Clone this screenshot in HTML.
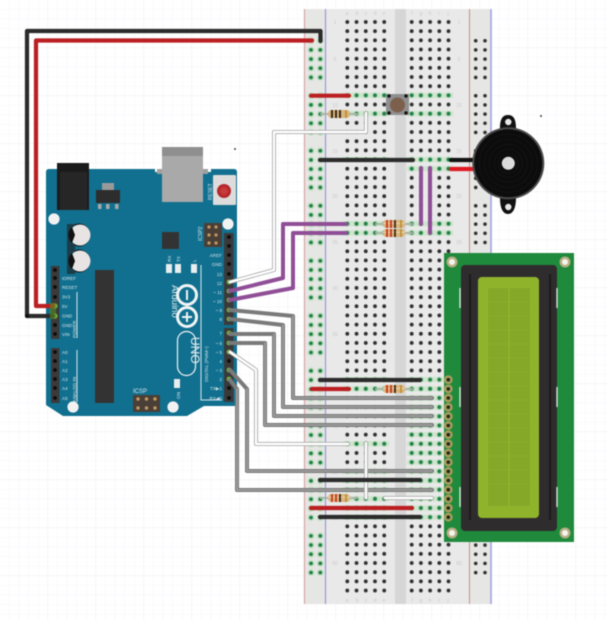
<!DOCTYPE html>
<html><head><meta charset="utf-8"><title>Arduino circuit</title>
<style>
html,body{margin:0;padding:0;background:#fff;width:608px;height:620px;overflow:hidden}
svg{display:block;filter:blur(.4px)}
text{font-family:"Liberation Sans",sans-serif}
</style></head><body>
<svg xmlns="http://www.w3.org/2000/svg" width="608" height="620" viewBox="0 0 608 620">
<defs>
<pattern id="gf" width="9.6" height="9.6" patternUnits="userSpaceOnUse"><path d="M9.6 0V9.6H0" fill="none" stroke="#f5f5f7" stroke-width="1"/></pattern>
<pattern id="gm" width="48" height="48" patternUnits="userSpaceOnUse"><path d="M48 0V48H0" fill="none" stroke="#ecedf0" stroke-width="1"/></pattern>
<pattern id="hole" x="342.7" y="17.4" width="9.23" height="9.17" patternUnits="userSpaceOnUse"><circle cx="4.6" cy="4.6" r="1.9" fill="#2e2e2e"/></pattern>
<pattern id="holeR" x="407.1" y="17.4" width="9.2" height="9.17" patternUnits="userSpaceOnUse"><circle cx="4.6" cy="4.6" r="1.9" fill="#2e2e2e"/></pattern>
<pattern id="gL" x="342.7" y="17.4" width="9.23" height="9.17" patternUnits="userSpaceOnUse"><rect y="2" width="9.23" height="5.2" fill="#cfe5cf"/><circle cx="4.6" cy="4.6" r="3" fill="#b9dcbc"/><circle cx="4.6" cy="4.6" r="1.9" fill="#1f7f45"/></pattern>
<pattern id="gR" x="407.1" y="17.4" width="9.2" height="9.17" patternUnits="userSpaceOnUse"><rect y="2" width="9.2" height="5.2" fill="#cfe5cf"/><circle cx="4.6" cy="4.6" r="3" fill="#b9dcbc"/><circle cx="4.6" cy="4.6" r="1.9" fill="#1f7f45"/></pattern>
<pattern id="railL" x="306.4" y="36.1" width="9.3" height="55.02" patternUnits="userSpaceOnUse">
<g fill="#c6e2c8"><circle cx="4.6" cy="4.6" r="3.6"/><circle cx="4.6" cy="13.77" r="3.6"/><circle cx="4.6" cy="22.94" r="3.6"/><circle cx="4.6" cy="32.11" r="3.6"/><circle cx="4.6" cy="41.28" r="3.6"/></g>
<g fill="#1f7f45"><circle cx="4.6" cy="4.6" r="1.9"/><circle cx="4.6" cy="13.77" r="1.9"/><circle cx="4.6" cy="22.94" r="1.9"/><circle cx="4.6" cy="32.11" r="1.9"/><circle cx="4.6" cy="41.28" r="1.9"/></g></pattern>
<pattern id="railR" x="471.1" y="36.1" width="9.3" height="55.02" patternUnits="userSpaceOnUse">
<g fill="#2e2e2e"><circle cx="4.6" cy="4.6" r="1.8"/><circle cx="4.6" cy="13.77" r="1.8"/><circle cx="4.6" cy="22.94" r="1.8"/><circle cx="4.6" cy="32.11" r="1.8"/><circle cx="4.6" cy="41.28" r="1.8"/></g></pattern>
<g id="res">
<path d="M-19 0H19" stroke="#a9b3a6" stroke-width="2"/>
<rect x="-11" y="-4" width="22" height="8" rx="3.5" fill="#d9b47c"/>
<rect x="-11" y="-1.4" width="22" height="1.4" fill="#efd9ae" opacity=".7"/>
<path d="M-7 -4V4" stroke="#c6341e" stroke-width="1.8"/><path d="M-3 -4V4" stroke="#c6341e" stroke-width="1.8"/><path d="M1 -4V4" stroke="#3c2516" stroke-width="1.8"/><path d="M7 -4V4" stroke="#b58a2c" stroke-width="1.5"/>
</g>
<g id="res2">
<path d="M-19 0H19" stroke="#a9b3a6" stroke-width="2"/>
<rect x="-11" y="-4" width="22" height="8" rx="3.5" fill="#d9b47c"/>
<path d="M-7 -4V4" stroke="#2a1c10" stroke-width="1.8"/><path d="M-3 -4V4" stroke="#2a1c10" stroke-width="1.8"/><path d="M1 -4V4" stroke="#2a1c10" stroke-width="1.8"/><path d="M7 -4V4" stroke="#b58a2c" stroke-width="1.5"/>
</g>
</defs>

<rect width="608" height="620" fill="#fff"/>
<rect width="608" height="620" fill="url(#gf)"/>
<rect width="608" height="620" fill="url(#gm)"/>
<circle cx="235" cy="149" r="1" fill="#444"/>
<circle cx="541" cy="116" r="1" fill="#444"/>

<!-- breadboard -->
<rect x="304" y="9" width="188" height="595" fill="#e6e6e4"/>
<rect x="326" y="9" width="143" height="595" fill="#e9e9e9"/>
<rect x="395" y="9" width="11" height="595" fill="#d6d6d6"/>
<path d="M304.5 9V604" stroke="#d9a5a5" stroke-width="1.2"/>
<path d="M469.5 9V604" stroke="#c98f8f" stroke-width="1"/>
<path d="M325.5 9V604" stroke="#9898d8" stroke-width="1.2"/>
<path d="M491 9V604" stroke="#a5a5e6" stroke-width="1.6"/>
<rect x="342.7" y="17.4" width="46.15" height="577.7" fill="url(#hole)"/>
<rect x="407.1" y="17.4" width="46" height="577.7" fill="url(#holeR)"/>
<rect x="306.4" y="36.1" width="18.6" height="540" fill="url(#railL)"/>
<rect x="471.1" y="36.1" width="18.6" height="540" fill="url(#railR)"/>
<g fill="#c9c9c9" font-size="5" text-anchor="middle">
<text x="347" y="15">a</text><text x="357" y="15">b</text><text x="366" y="15">c</text><text x="375" y="15">d</text><text x="384" y="15">e</text>
<text x="412" y="15">f</text><text x="421" y="15">g</text><text x="430" y="15">h</text><text x="439" y="15">i</text><text x="448" y="15">j</text>
<text x="347" y="602">a</text><text x="357" y="602">b</text><text x="366" y="602">c</text><text x="375" y="602">d</text><text x="384" y="602">e</text>
<text x="412" y="602">f</text><text x="421" y="602">g</text><text x="430" y="602">h</text><text x="439" y="602">i</text><text x="448" y="602">j</text>
<text x="335" y="24">1</text><text x="335" y="61">5</text><text x="335" y="107">10</text><text x="335" y="153">15</text><text x="335" y="198">20</text><text x="335" y="244">25</text><text x="335" y="290">30</text><text x="335" y="336">35</text><text x="335" y="382">40</text><text x="335" y="428">45</text><text x="335" y="474">50</text><text x="335" y="520">55</text><text x="335" y="565">60</text>
<text x="459" y="24">1</text><text x="459" y="61">5</text><text x="459" y="107">10</text><text x="459" y="153">15</text><text x="459" y="198">20</text><text x="459" y="244">25</text><text x="459" y="290">30</text><text x="459" y="336">35</text><text x="459" y="382">40</text><text x="459" y="428">45</text><text x="459" y="474">50</text><text x="459" y="520">55</text><text x="459" y="565">60</text>
</g>
<!-- highlighted rows -->
<g fill="url(#gL)">
<rect x="342.7" y="90.77" width="46.15" height="9.17"/>
<rect x="342.7" y="109.11" width="46.15" height="9.17"/>
<rect x="342.7" y="155.0" width="46.15" height="9.17"/>
<rect x="342.7" y="219.1" width="46.15" height="18.34"/>
<rect x="342.7" y="375.0" width="46.15" height="18.34"/>
<rect x="342.7" y="439.2" width="46.15" height="9.17"/>
<rect x="342.7" y="466.7" width="46.15" height="55.02"/>
</g>
<g fill="url(#gR)">
<rect x="407.1" y="90.77" width="46" height="9.17"/>
<rect x="407.1" y="109.11" width="46" height="9.17"/>
<rect x="407.1" y="155.0" width="46" height="18.34"/>
<rect x="407.1" y="219.1" width="46" height="18.34"/>
<rect x="407.1" y="375.0" width="46" height="146.7"/>
</g>

<!-- arduino -->
<path d="M46 172Q46 169 49 169H155V172H162V169H203V172H211V169H234Q237 169 237 172V404Q237 406 234 406H204L187 416H63L46 405Z" fill="#11708f"/>
<rect x="57" y="163" width="32" height="47" fill="#1b1b1b"/>
<rect x="60" y="172" width="27" height="38" fill="#262626"/>
<rect x="102" y="183" width="12" height="8" fill="#9a9a9a"/>
<rect x="96" y="190" width="24" height="13" fill="#2d2d2d"/>
<g fill="#a8a8a8"><rect x="98" y="204" width="3.5" height="5"/><rect x="106" y="204" width="3.5" height="5"/><rect x="115" y="204" width="3.5" height="5"/></g>
<rect x="157" y="169" width="51" height="5" fill="#9f9f9f"/>
<rect x="162" y="147" width="41" height="55" fill="#a9a9a9"/>
<rect x="162" y="147" width="41" height="9" fill="#8f8f8f"/>
<rect x="213" y="175" width="23" height="30" rx="1" fill="#dcdcdc"/>
<circle cx="224" cy="191" r="7" fill="#b3282d"/><circle cx="224" cy="191" r="4" fill="#c83a3a"/>
<text transform="translate(212,200) rotate(-90)" font-size="5" fill="#d8e6ec">RESET</text>
<g fill="#f2f2f2"><circle cx="54" cy="219" r="5.6"/><circle cx="228" cy="224" r="5.6"/><circle cx="73" cy="407" r="5.6"/><circle cx="173" cy="407" r="5.6"/></g>
<circle cx="79" cy="235" r="11.500" fill="#151515"/><circle cx="79" cy="261" r="11.500" fill="#151515"/>
<rect x="67" y="224" width="8" height="50" fill="#1a3d4a"/>
<circle cx="80" cy="235" r="10.500" fill="#e8e4e4"/><circle cx="80" cy="261" r="10.500" fill="#e8e4e4"/>
<path d="M72 227A11 11 0 0 0 72 243L75 235Z" fill="#111"/><path d="M72 253A11 11 0 0 0 72 269L75 261Z" fill="#111"/>
<rect x="95" y="270" width="19" height="133" fill="#333"/>
<rect x="162" y="232" width="17" height="17" fill="#333"/>
<rect x="204" y="223" width="18" height="24" fill="#4a3f37"/>
<g fill="#c49a63"><circle cx="209" cy="227" r="1.6"/><circle cx="216" cy="227" r="1.6"/><circle cx="209" cy="235" r="1.6"/><circle cx="216" cy="235" r="1.6"/><circle cx="209" cy="243" r="1.6"/><circle cx="216" cy="243" r="1.6"/></g>
<text transform="translate(202,241) rotate(-90)" font-size="5" fill="#d8e6ec">ICSP2</text>
<!-- headers -->
<rect x="224" y="233" width="9.5" height="92" fill="#3a3a3a"/>
<rect x="224" y="328" width="9.5" height="74" fill="#3a3a3a"/>
<rect x="51" y="266" width="8.5" height="73" fill="#3a3a3a"/>
<rect x="51" y="348" width="8.5" height="55" fill="#3a3a3a"/>
<g fill="#0c0c0c"><circle cx="229" cy="237" r="1.9"/><circle cx="229" cy="246" r="1.9"/><circle cx="229" cy="255" r="1.9"/><circle cx="229" cy="264" r="1.9"/><circle cx="229" cy="274" r="1.9"/><circle cx="229" cy="388" r="1.9"/><circle cx="229" cy="398" r="1.9"/><circle cx="229" cy="361" r="1.9"/>
<circle cx="55" cy="270" r="1.9"/><circle cx="55" cy="278" r="1.9"/><circle cx="55" cy="287" r="1.9"/><circle cx="55" cy="297" r="1.9"/><circle cx="55" cy="325" r="1.9"/><circle cx="55" cy="334" r="1.9"/>
<circle cx="55" cy="352" r="1.9"/><circle cx="55" cy="361" r="1.9"/><circle cx="55" cy="370" r="1.9"/><circle cx="55" cy="379" r="1.9"/><circle cx="55" cy="388" r="1.9"/><circle cx="55" cy="398" r="1.9"/></g>
<g fill="#6cb33f"><circle cx="229" cy="310" r="2.4"/><circle cx="229" cy="319" r="2.4"/><circle cx="229" cy="333" r="2.4"/><circle cx="229" cy="343" r="2.4"/><circle cx="229" cy="370" r="2.4"/><circle cx="229" cy="379" r="2.4"/><circle cx="229" cy="282" r="2.4"/><circle cx="229" cy="291" r="2.4"/><circle cx="229" cy="300" r="2.4"/><circle cx="229" cy="352" r="2.4"/><circle cx="55" cy="306" r="2.6"/><circle cx="55" cy="316" r="2.6"/></g>
<!-- board labels -->
<g fill="#d8e6ec" font-size="4.6">
<text x="62" y="280">IOREF</text><text x="62" y="289">RESET</text><text x="62" y="298.5">3V3</text><text x="62" y="308">5V</text><text x="62" y="317.5">GND</text><text x="62" y="327">GND</text><text x="62" y="336">VIN</text>
<text x="62" y="354">A0</text><text x="62" y="363">A1</text><text x="62" y="372">A2</text><text x="62" y="381">A3</text><text x="62" y="390">A4</text><text x="62" y="400">A5</text>
<text transform="translate(76,338) rotate(-90)">POWER</text>
<text transform="translate(76,402) rotate(-90)">ANALOG IN</text>
<text transform="translate(208,382) rotate(-90)">DIGITAL (PWM~)</text>
</g>
<g fill="#d8e6ec" font-size="4.6" text-anchor="end">
<text x="222" y="257">AREF</text><text x="222" y="266">GND</text><text x="222" y="276">13</text><text x="222" y="285">12</text><text x="222" y="294">~ 11</text><text x="222" y="303">~ 10</text><text x="222" y="312">~ 9</text><text x="222" y="321">8</text>
<text x="222" y="335">7</text><text x="222" y="345">~ 6</text><text x="222" y="354">~ 5</text><text x="222" y="363">4</text><text x="222" y="372">~ 3</text><text x="222" y="381">2</text><text x="222" y="390">TX▶1</text><text x="222" y="400">RX◀0</text>
</g>
<path d="M77 292V338M77 350V402M201 265V400H222" stroke="#d8e6ec" stroke-width="1" fill="none"/>
<g fill="#e8eef0"><rect x="166" y="264" width="6" height="9"/><rect x="175" y="264" width="6" height="9"/><rect x="191" y="264" width="6" height="9"/><rect x="174" y="379" width="6" height="9"/></g>
<g fill="#d8e6ec" font-size="4.6">
<text transform="translate(171,262) rotate(-90)">RX</text><text transform="translate(180,262) rotate(-90)">TX</text><text transform="translate(196,262) rotate(-90)">L</text><text transform="translate(180,399) rotate(-90)">ON</text>
<text x="133" y="393" font-size="6">ICSP</text>
</g>
<g fill="none" stroke="#f0f4f5"><circle cx="187" cy="295" r="9.5" stroke-width="3"/><circle cx="187" cy="317" r="9.5" stroke-width="3"/><rect x="177.5" y="331.5" width="18" height="44" rx="9" stroke-width="1.2"/></g>
<path d="M187 290V300M182 317H192M187 312V322" stroke="#f0f4f5" stroke-width="2"/>
<text transform="translate(172,285) rotate(90)" font-size="9.5" fill="#e3edf0">Arduino</text>
<text transform="translate(191,337) rotate(90)" font-size="12" fill="#e3edf0">UNO</text>
<rect x="133" y="395" width="27" height="17" fill="#4a3f37"/>
<g fill="#c49a63"><circle cx="138" cy="399" r="1.7"/><circle cx="146.5" cy="399" r="1.7"/><circle cx="155" cy="399" r="1.7"/><circle cx="138" cy="408" r="1.7"/><circle cx="146.5" cy="408" r="1.7"/><circle cx="155" cy="408" r="1.7"/></g>

<!-- wires -->
<g fill="none" stroke-linejoin="round" stroke-linecap="round">
<g stroke-width="4" stroke="#7a7a7a">
<path d="M230 310L293 316V398H432"/>
<path d="M230 319L283 325V407H432"/>
<path d="M230 334H274V416H432"/>
<path d="M230 343H265V425H432"/>
<path d="M230 370L247 389V471H432"/>
<path d="M230 380L237 389V490H432"/>
</g>
<g stroke-width="1.500" stroke="#a2a2a2">
<path d="M293 316V398H432"/><path d="M283 325V407H432"/><path d="M274 334V416H432"/><path d="M265 343V425H432"/><path d="M247 389V471H432"/><path d="M237 389V490H432"/>
</g>
<g stroke-width="4" stroke="#8f4e96">
<path d="M230 291L283 278V224H346"/>
<path d="M230 300L293 288V233H346"/>
<path d="M421 168V224"/><path d="M430 168V233"/>
</g>
<g stroke-width="4" stroke="#a4a4a4">
<path d="M230 282L274 270V132H366V113"/>
<path d="M230 352L256 370V444H348"/>
<path d="M366 443V498"/>
<path d="M385 498H432"/>
</g>
<g stroke-width="2.400" stroke="#fff">
<path d="M230 282L274 270V132H366V113"/>
<path d="M230 352L256 370V444H348"/>
<path d="M366 443V498"/>
<path d="M385 498H432"/>
</g>
<g stroke-width="4.200" stroke="#2b2b2b">
<path d="M53 316H27V31H320.5V41"/>
<path d="M320 160H413"/><path d="M320 380H420"/><path d="M320 480H420"/><path d="M320 517H420"/>
<path d="M451 160H475" stroke="#111"/>
</g>
<g stroke-width="4.200" stroke="#bb1f22">
<path d="M53 306H36V40.5H312"/>
<path d="M311 95.7H349"/><path d="M312 389H349"/><path d="M311 508H412"/>
<path d="M451 169H475" stroke="#e01a22"/>
</g>
</g>
<circle cx="27" cy="316" r="2" fill="#111"/>
<rect x="50" y="303" width="6" height="16" fill="#5a8a20" opacity=".6"/>

<!-- resistors -->
<use href="#res2" x="339" y="114"/>
<use href="#res" x="394" y="224"/>
<use href="#res" x="394" y="233"/>
<use href="#res" x="394" y="389"/>
<use href="#res" x="339" y="498"/>

<!-- button -->
<rect x="386" y="94" width="23" height="21" fill="#8f8f8f"/>
<circle cx="397.5" cy="105" r="7.5" fill="#7d5f4e"/>
<g fill="#111"><circle cx="389" cy="96" r="1.7"/><circle cx="406" cy="96" r="1.7"/><circle cx="389" cy="113" r="1.7"/><circle cx="406" cy="113" r="1.7"/></g>

<!-- buzzer -->
<path d="M500 128C500 120 502 115 508 115C514 115 516 120 516 128L528 140H488Z" fill="#111"/>
<path d="M500 198C500 206 502 214 508 214C514 214 516 206 516 198L528 186H488Z" fill="#111"/>
<circle cx="508.3" cy="122" r="3.2" fill="#e8e8e8"/>
<circle cx="508.3" cy="207" r="3.2" fill="#e8e8e8"/>
<circle cx="508.3" cy="163.3" r="36" fill="#4a4a4a"/>
<circle cx="508.3" cy="163.3" r="34" fill="#0c0c0c"/>
<g fill="none" stroke="#171717" stroke-width=".7"><circle cx="508.3" cy="163.3" r="29"/><circle cx="508.3" cy="163.3" r="24"/><circle cx="508.3" cy="163.3" r="19"/><circle cx="508.3" cy="163.3" r="14"/><circle cx="508.3" cy="163.3" r="10"/></g>
<circle cx="508.3" cy="163.3" r="6.5" fill="#dcdcdc"/>

<!-- LCD -->
<rect x="444" y="253" width="130" height="289" fill="#1f8a3c"/>
<g fill="#b9ae84"><circle cx="452" cy="262" r="5.5"/><circle cx="565" cy="262" r="5.5"/><circle cx="452" cy="533" r="5.5"/><circle cx="565" cy="533" r="5.5"/></g>
<g fill="#f4f4f0"><circle cx="452" cy="262" r="3"/><circle cx="565" cy="262" r="3"/><circle cx="452" cy="533" r="3"/><circle cx="565" cy="533" r="3"/></g>
<rect x="461" y="265" width="96" height="266" rx="4" fill="#2f2c2e"/>
<path d="M470 274V520M550 274V520" stroke="#1b1b1b" stroke-width="2"/>
<rect x="478" y="277" width="61" height="241" rx="4" fill="#8fb42c"/>
<rect x="488" y="288" width="42" height="218" fill="#85a829"/>
<path d="M509 288V506" stroke="#8fb42c" stroke-width="1.500"/>
<g stroke="#8fb42c" stroke-width=".5"><path d="M488 302H530M488 316H530M488 330H530M488 344H530M488 358H530M488 372H530M488 386H530M488 400H530M488 414H530M488 428H530M488 442H530M488 456H530M488 470H530M488 484H530"/></g>
<path d="M460 288V308M460 387V407M460 487V507M557 288V308M557 387V407M557 487V507" stroke="#eef4ee" stroke-width="1.2"/>
<g fill="#a89c5c">
<circle cx="448.3" cy="379.7" r="4.4"/><circle cx="448.3" cy="388.9" r="4.4"/><circle cx="448.3" cy="398" r="4.4"/><circle cx="448.3" cy="407.2" r="4.4"/><circle cx="448.3" cy="416.4" r="4.4"/><circle cx="448.3" cy="425.5" r="4.4"/><circle cx="448.3" cy="434.7" r="4.4"/><circle cx="448.3" cy="443.9" r="4.4"/><circle cx="448.3" cy="453" r="4.4"/><circle cx="448.3" cy="462.2" r="4.4"/><circle cx="448.3" cy="471.4" r="4.4"/><circle cx="448.3" cy="480.5" r="4.4"/><circle cx="448.3" cy="489.7" r="4.4"/><circle cx="448.3" cy="498.9" r="4.4"/><circle cx="448.3" cy="508" r="4.4"/><circle cx="448.3" cy="517.2" r="4.4"/>
</g>
<g fill="#1c2a1c">
<circle cx="448.3" cy="379.7" r="1.8"/><circle cx="448.3" cy="388.9" r="1.8"/><circle cx="448.3" cy="398" r="1.8"/><circle cx="448.3" cy="407.2" r="1.8"/><circle cx="448.3" cy="416.4" r="1.8"/><circle cx="448.3" cy="425.5" r="1.8"/><circle cx="448.3" cy="434.7" r="1.8"/><circle cx="448.3" cy="443.9" r="1.8"/><circle cx="448.3" cy="453" r="1.8"/><circle cx="448.3" cy="462.2" r="1.8"/><circle cx="448.3" cy="471.4" r="1.8"/><circle cx="448.3" cy="480.5" r="1.8"/><circle cx="448.3" cy="489.7" r="1.8"/><circle cx="448.3" cy="498.9" r="1.8"/><circle cx="448.3" cy="508" r="1.8"/><circle cx="448.3" cy="517.2" r="1.8"/>
</g>
</svg>
</body></html>
